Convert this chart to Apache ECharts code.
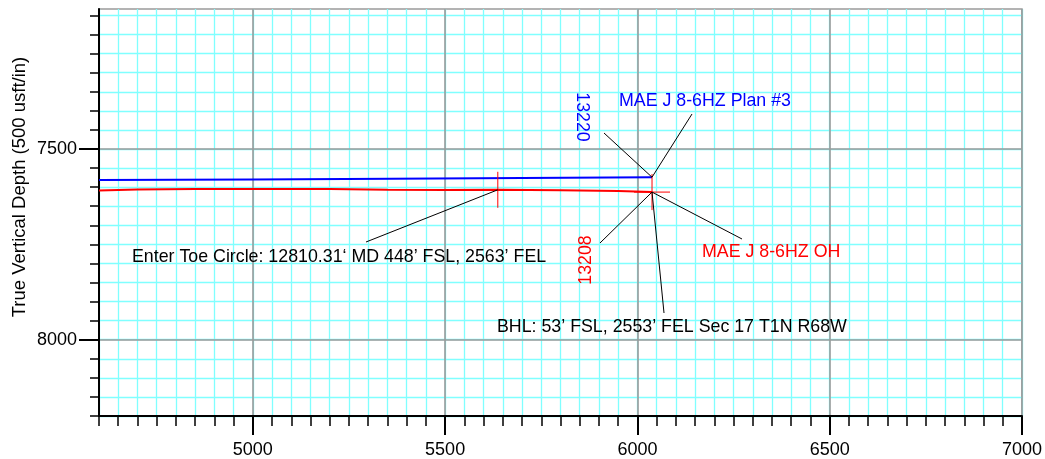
<!DOCTYPE html>
<html><head><meta charset="utf-8">
<script src="https://cdn.jsdelivr.net/npm/echarts@6/dist/echarts.min.js"></script>
<style>html,body{margin:0;padding:0;background:#fff}#c{width:1045px;height:459px}</style>
</head><body><div id="c"></div>
<script>
// ---- data ----
const planX = [4600, 5000, 5360, 5700, 6038];
const planY = [7581.5, 7580, 7578, 7576, 7574];
const ohX = [4600, 4700, 4850, 5000, 5200, 5350, 5500, 5637, 5800, 5950, 6038];
const ohY = [7608.5, 7606, 7605, 7605, 7605, 7607, 7607.5, 7607, 7608, 7610, 7613];
const toePoint = [5637, 7607];
const xMajorTicks = [5000, 5500, 6000, 6500, 7000];
const yMajorTicks = [7500, 8000];
const xMin = 4600, xMax = 7000, yMin = 7133, yMax = 8200;
const yMinorTicks = [];
for (let v = 7150; v <= yMax; v += 50) yMinorTicks.push(v);
const planName = 'MAE J 8-6HZ Plan #3';
const ohName = 'MAE J 8-6HZ OH';
const planMD = '13220';
const ohMD = '13208';
const toeText = 'Enter Toe Circle: 12810.31\u2018 MD 448\u2019 FSL, 2563\u2019 FEL';
const bhlText = 'BHL: 53\u2019 FSL, 2553\u2019 FEL Sec 17 T1N R68W';
const yName = 'True Vertical Depth (500 usft/in)';

const FONT = "'Liberation Sans', Arial, sans-serif";
const CYAN = '#80ffff';
const GRAY = '#9a9a9a';

const chart = echarts.init(document.getElementById('c'), null, {renderer: 'canvas'});
const option = {
  animation: false,
  backgroundColor: '#fff',
  grid: {left: 99, right: 23, top: 9, bottom: 40, show: true, borderColor: GRAY, borderWidth: 1.5},
  xAxis: [
    {type: 'value', position: 'bottom', min: xMin, max: xMax, interval: 50, z: 0,
     axisLine: {show: false, onZero: false},
     axisTick: {show: true, length: 10, lineStyle: {color: '#000', width: 1.5}},
     axisLabel: {show: false},
     splitLine: {show: true, lineStyle: {color: CYAN, width: 1.3}}},
    {type: 'value', position: 'bottom', min: xMin, max: xMax, z: 2,
     axisLine: {show: true, onZero: false, lineStyle: {color: '#000', width: 2}},
     axisTick: {show: true, length: 19, customValues: xMajorTicks, lineStyle: {color: '#000', width: 2}},
     axisLabel: {show: true, customValues: xMajorTicks, margin: 25, fontSize: 18, color: '#000', fontFamily: FONT,
                 formatter: v => String(v)},
     splitLine: {show: true, lineStyle: {color: GRAY, width: 1.6}}}
  ],
  yAxis: [
    {type: 'value', position: 'left', inverse: true, min: yMin, max: yMax, z: 0,
     axisLine: {show: false, onZero: false},
     axisTick: {show: true, length: 9, customValues: yMinorTicks, lineStyle: {color: '#000', width: 1.5}},
     axisLabel: {show: false},
     splitLine: {show: true, lineStyle: {color: CYAN, width: 1.3}}},
    {type: 'value', position: 'left', inverse: true, min: yMin, max: yMax, z: 2,
     axisLine: {show: true, onZero: false, lineStyle: {color: '#000', width: 2}},
     axisTick: {show: true, length: 20, customValues: yMajorTicks, lineStyle: {color: '#000', width: 2}},
     axisLabel: {show: true, customValues: yMajorTicks, margin: 22, fontSize: 18, color: '#000', fontFamily: FONT,
                 formatter: v => String(v)},
     splitLine: {show: true, lineStyle: {color: GRAY, width: 1.6}}}
  ],
  series: [
    {name: planName, type: 'line', xAxisIndex: 0, yAxisIndex: 0, symbol: 'none', z: 3,
     data: planX.map((x, i) => [x, planY[i]]), lineStyle: {color: '#0000ff', width: 2}},
    {name: ohName, type: 'line', xAxisIndex: 0, yAxisIndex: 0, symbol: 'none', z: 3,
     data: ohX.map((x, i) => [x, ohY[i]]), lineStyle: {color: '#ff0000', width: 2}}
  ]
};
chart.setOption(option);

const px = p => chart.convertToPixel({xAxisIndex: 0, yAxisIndex: 0}, p);
const planEnd = px([planX[planX.length - 1], planY[planY.length - 1]]);
const ohEnd = px([ohX[ohX.length - 1], ohY[ohY.length - 1]]);
const toe = px(toePoint);

function line(a, b, color) {
  return {type: 'line', silent: true, z: 100,
    shape: {x1: a[0], y1: a[1], x2: b[0], y2: b[1]},
    style: {stroke: color || '#000', lineWidth: 1}};
}
function text(str, x, y, color, rot, align, size) {
  return {type: 'text', silent: true, z: 100, x: x, y: y, rotation: rot || 0,
    style: {text: str, fill: color, font: (size || 17.8) + 'px ' + FONT, align: align || 'center', verticalAlign: 'middle'}};
}
const H = 18;
const graphics = [
  // red crosses
  line([toe[0], toe[1] - H], [toe[0], toe[1] + H], '#ff0000'),
  line([toe[0] - H, toe[1]], [toe[0] + H, toe[1]], '#ff0000'),
  line([ohEnd[0], ohEnd[1] - H], [ohEnd[0], ohEnd[1] + H], '#ff0000'),
  line([ohEnd[0] - H, ohEnd[1]], [ohEnd[0] + H, ohEnd[1]], '#ff0000'),
  // leaders
  line(planEnd, [692, 114]),
  line(planEnd, [604, 133]),
  line(ohEnd, [600, 243]),
  line(ohEnd, [742, 239]),
  line(ohEnd, [664, 313]),
  line(toe, [366, 242]),
  // labels
  text(planName, 619, 101, '#0000ff', 0, 'left'),
  text(planMD, 582, 117, '#0000ff', -Math.PI / 2),
  text(ohMD, 586, 260, '#ff0000', Math.PI / 2),
  text(ohName, 702, 252, '#ff0000', 0, 'left'),
  text(bhlText, 497, 327, '#000', 0, 'left'),
  text(toeText, 132, 257, '#000', 0, 'left'),
  text(yName, 20, 187, '#000', Math.PI / 2, 'center', 18.5)
];
chart.setOption({graphic: graphics});
</script></body></html>
